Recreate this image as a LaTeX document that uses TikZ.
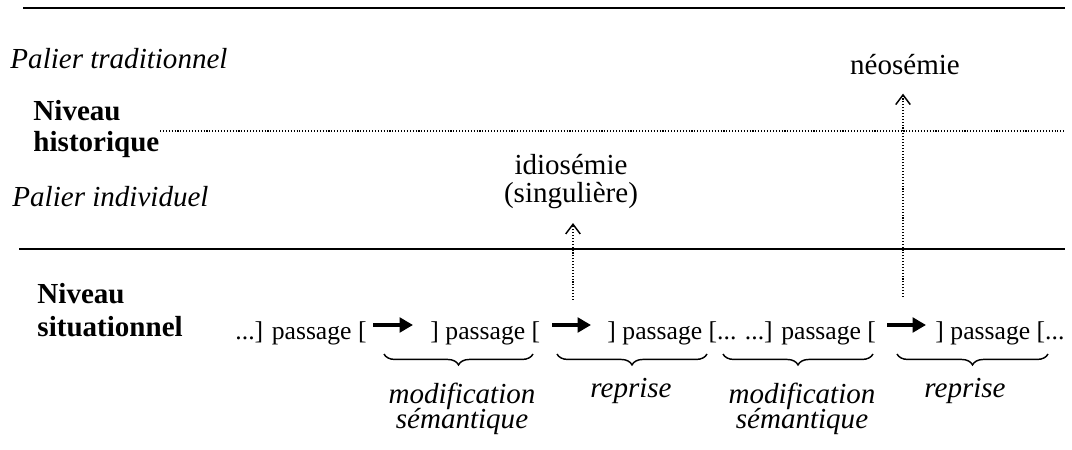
\documentclass[tikz,border=0pt]{standalone}
\usepackage{fontspec}
\setmainfont{Liberation Serif}
\usetikzlibrary{arrows.meta, decorations.pathreplacing}
\newcommand\tightlines{\lineskiplimit=-10pt\relax}

\begin{document}
\begin{tikzpicture}[x=0.4132pt, y=-0.4132pt,
    txt/.style={inner sep=0pt, anchor=base west, font=\fontsize{12}{13}\selectfont},
    row/.style={inner sep=0pt, anchor=base west, font=\fontsize{10.6}{13}\selectfont},
    rule/.style={line width=0.8pt},
    dots/.style={line width=0.45pt, dash pattern=on 0.45pt off 0.75pt},
    rise/.style={dots, -{Straight Barb[length=4pt, width=6pt, line width=0.6pt]}},
    passarrow/.style={line width=2pt, -{Triangle[length=5.5pt, width=6pt]}},
    brc/.style={decorate, decoration={brace, mirror, amplitude=4.5pt}, line width=0.6pt}]
  \useasboundingbox (0,0) rectangle (1072,450);
  % Levels:
  \draw[rule] (23,8) -- (1065,8);
  \draw[dots] (160,131) -- (1065,131);
  \draw[rule] (19,249) -- (1065,249);
  \node[txt, font=\fontsize{12}{13}\selectfont\itshape] (trad) at (10,69) {Palier traditionnel};
  \node[txt, align=left, font=\fontsize{12}{13.2}\selectfont\bfseries] (hist) at (33,152) {Niveau\\historique};
  \node[txt, font=\fontsize{12}{13}\selectfont\itshape] (indiv) at (12,207) {Palier individuel};
  \node[txt, align=left, font=\fontsize{12}{14}\selectfont\bfseries] (situ) at (37,337) {Niveau\\situationnel};
  % Passages:
  \node[row] (p1) at (235,340) {...] passage [};
  \node[row] (p2) at (430,340) {] passage [};
  \node[row] (p3) at (607,340) {] passage [... ...] passage [};
  \node[row] (p4) at (935,340) {] passage [...};
  \draw[passarrow] (373,325) -- (413,325);
  \draw[passarrow] (552,325) -- (591,325);
  \draw[passarrow] (887,325) -- (926,325);
  % Emergences:
  \node[txt, anchor=base, align=center, font=\fontsize{12}{11.6}\selectfont\tightlines] (idio) at (571,203) {idiosémie\\(singulière)};
  \node[txt, anchor=base] (neo) at (905,75) {néosémie};
  \coordinate (s1) at (573,300);
  \coordinate (s2) at (903,297);
  \draw[rise, shorten >=5.5pt] (s1) -- (s1 |- idio.south);
  \draw[rise, shorten >=7.4pt] (s2) -- (s2 |- neo.south);
  % Braces:
  \draw[brc] (384,354) -- (533,354);
  \draw[brc] (557,354) -- (707,354);
  \draw[brc] (723,354) -- (873,354);
  \draw[brc] (897,354) -- (1048,354);
  \node[txt, anchor=base, align=center, font=\fontsize{12}{10.7}\selectfont\itshape\tightlines] (mod1) at (462,429) {modification\\sémantique};
  \node[txt, anchor=base, font=\fontsize{12}{13}\selectfont\itshape] (rep1) at (631,398) {reprise};
  \node[txt, anchor=base, align=center, font=\fontsize{12}{10.7}\selectfont\itshape\tightlines] (mod2) at (802,429) {modification\\sémantique};
  \node[txt, anchor=base, font=\fontsize{12}{13}\selectfont\itshape] (rep2) at (965,398) {reprise};
\end{tikzpicture}
\end{document}
